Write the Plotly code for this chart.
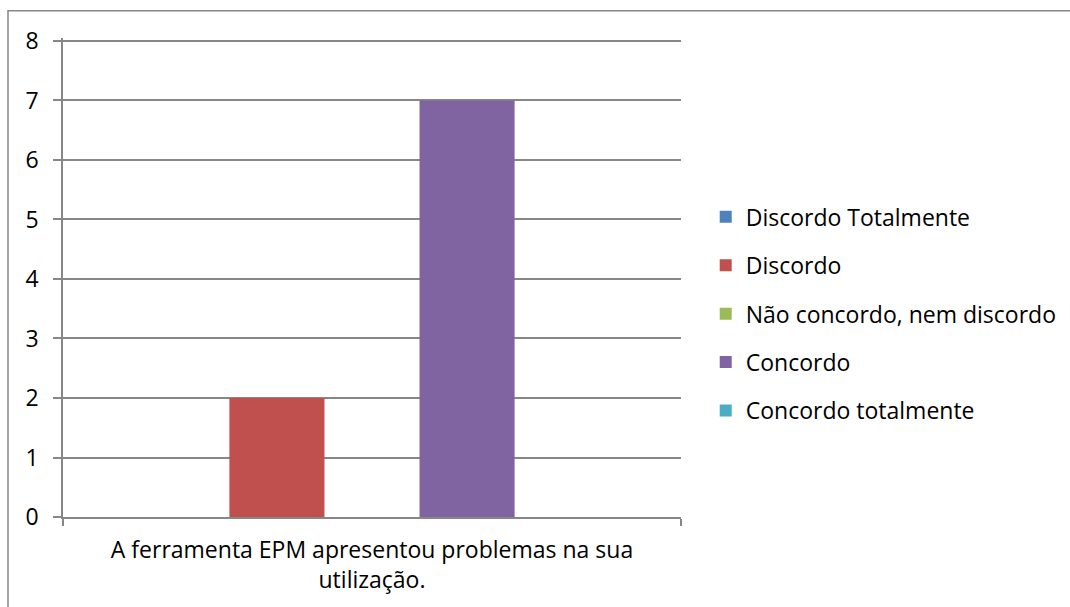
import plotly.graph_objects as go

# Survey answers for one statement
category = "A ferramenta EPM apresentou problemas na sua utilização."
category_label = "A ferramenta EPM apresentou problemas na sua<br>utilização."
series_names = [
    "Discordo Totalmente",
    "Discordo",
    "Não concordo, nem discordo",
    "Concordo",
    "Concordo totalmente",
]
series_values = [0, 2, 0, 7, 0]
series_colors = ["#4F81BD", "#C0504D", "#9BBB59", "#8064A2", "#4BACC6"]

FONT = "Open Sans"
FS = 23
GRID = "#878787"

fig = go.Figure()
for i, (name, val, col) in enumerate(zip(series_names, series_values, series_colors)):
    fig.add_trace(go.Bar(
        x=[category], y=[val], name=name,
        marker=dict(color=col, line=dict(width=0)),
        legendgroup=f"g{i}",
    ))

# small headroom above 8 so the top gridline is kept
Y_MAX = 8.05

fig.update_layout(
    width=1070, height=607,
    margin=dict(l=63, r=389, t=38, b=90, autoexpand=False),
    paper_bgcolor="white", plot_bgcolor="white",
    barmode="group", bargap=0.2308, bargroupgap=0,
    font=dict(family=FONT, size=FS, color="#000000"),
    showlegend=True,
    legend=dict(
        x=1.040, xanchor="left", y=0.424, yanchor="middle",
        font=dict(family=FONT, size=FS, color="#000000"),
        tracegroupgap=15.5, bgcolor="rgba(0,0,0,0)",
    ),
    xaxis=dict(
        tickvals=[category], ticktext=[category_label],
        showline=True, linecolor=GRID, linewidth=1.5,
        ticks="outside", tickson="boundaries", ticklen=7, tickcolor=GRID, tickwidth=1.5,
        showgrid=False, tickfont=dict(family=FONT, size=FS),
        ticklabelstandoff=12,
    ),
    yaxis=dict(
        range=[0, Y_MAX], tickvals=list(range(0, 9)),
        showline=True, linecolor=GRID, linewidth=1.5,
        ticks="outside", ticklen=8, tickcolor=GRID, tickwidth=1.5,
        showgrid=True, gridcolor=GRID, gridwidth=1.5,
        zeroline=False, tickfont=dict(family=FONT, size=FS),
        ticklabelstandoff=10,
    ),
    shapes=[dict(
        type="rect", xref="paper", yref="paper",
        x0=-0.089, x1=1.7, y0=-0.3, y1=1.057,
        line=dict(color=GRID, width=1.5), fillcolor="rgba(0,0,0,0)", layer="below",
    )],
)

fig.write_html("out.html")
